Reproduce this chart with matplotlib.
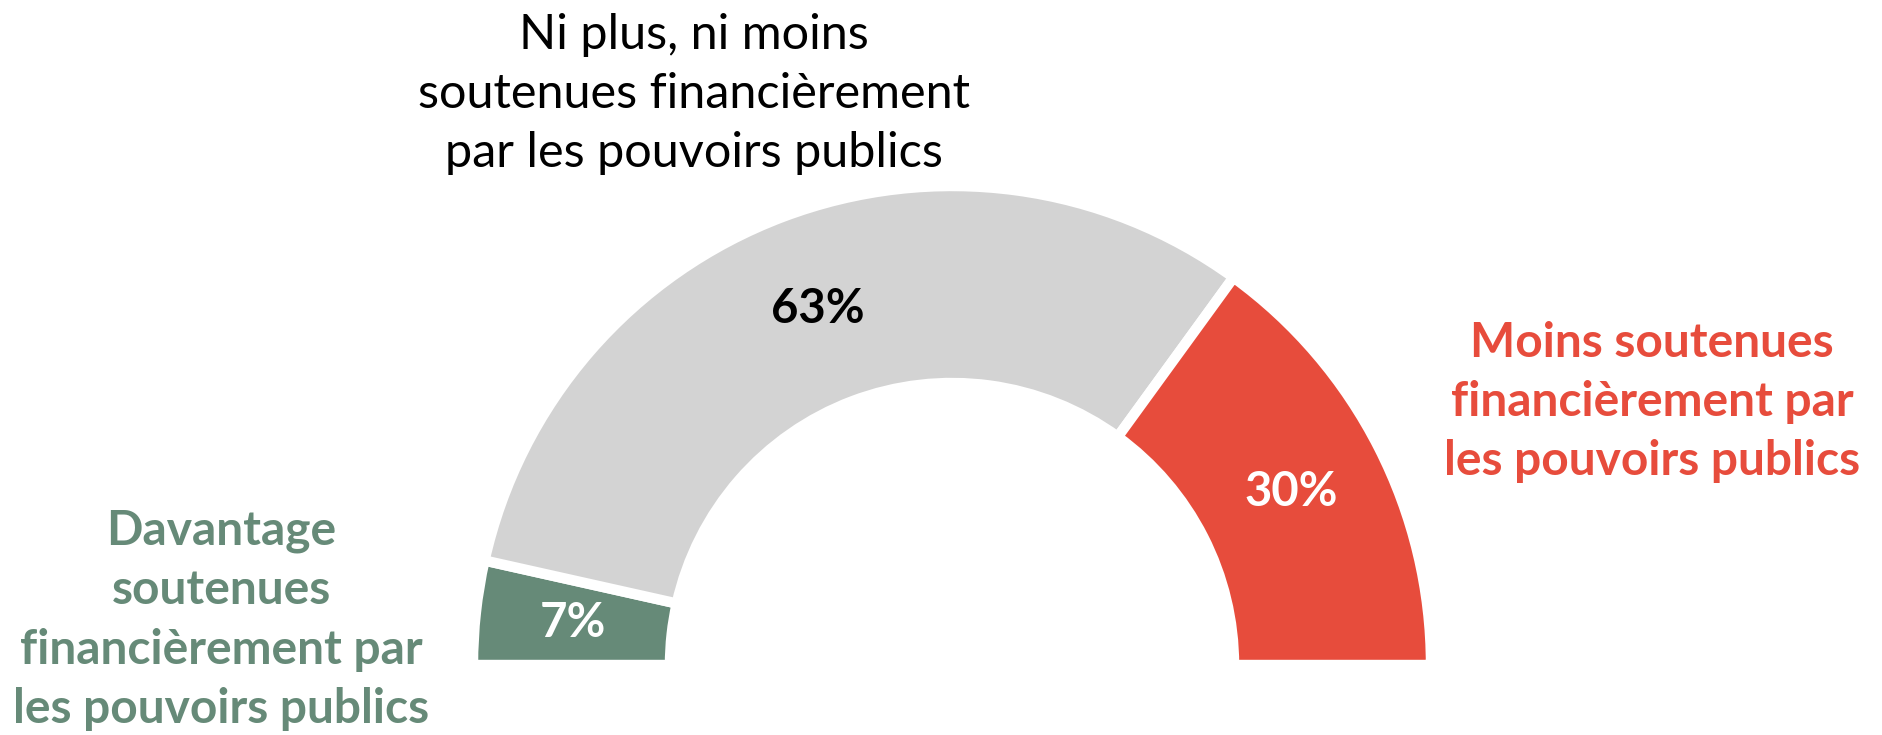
import matplotlib.pyplot as plt
import numpy as np

# categories (from left to right along the half ring)
categories = [
    "Davantage\nsoutenues\nfinancièrement par\nles pouvoirs publics",
    "Ni plus, ni moins\nsoutenues financièrement\npar les pouvoirs publics",
    "Moins soutenues\nfinancièrement par\nles pouvoirs publics",
]
values = [7, 63, 30]
pct_labels = ["7%", "63%", "30%"]
colors = ["#668A78", "#D3D3D3", "#E74C3C"]
pct_colors = ["white", "black", "white"]

plt.rcParams['font.family'] = ['Lato', 'DejaVu Sans']

W, H = 1883, 735
fig = plt.figure(figsize=(W / 100, H / 100), dpi=100)

# pixel geometry of the ring
cx, cy = 952, 665          # centre (from top)
R = 479                    # outer radius incl. white edge
ax = fig.add_axes([(cx - R) / W, (H - cy - R) / H, 2 * R / W, 2 * R / H])
ax.axis('off')

# hidden bottom half so the ring is a half circle
vals = values + [sum(values)]
cols = colors + ["none"]
wedges, _ = ax.pie(vals, colors=cols, startangle=180, counterclock=False,
                   radius=1, wedgeprops=dict(width=(479 - 282) / 479,
                                             edgecolor='white', linewidth=7.5))
wedges[-1].set_edgecolor('none')
ax.set_xlim(-1, 1)
ax.set_ylim(-1, 1)

# percentage labels in the middle of each segment
total = sum(values)
start = 180.0
rmid = 381 / 479
for v, lab, c in zip(values, pct_labels, pct_colors):
    span = v / total * 180
    mid = np.radians(start - span / 2)
    ax.text(rmid * np.cos(mid), rmid * np.sin(mid), lab, ha='center', va='center',
            fontsize=34, fontweight='bold', color=c)
    start -= span

# category labels
fig.text(221 / W, 1 - 620 / H, categories[0], ha='center', va='center',
         fontsize=34.5, fontweight='bold', color=colors[0], linespacing=1.42)
fig.text(694 / W, 1 - 94 / H, categories[1], ha='center', va='center',
         fontsize=35, color='black', linespacing=1.42)
fig.text(1652 / W, 1 - 402 / H, categories[2], ha='center', va='center',
         fontsize=34.5, fontweight='bold', color=colors[2], linespacing=1.42)

fig.savefig('out.png', dpi=100)
